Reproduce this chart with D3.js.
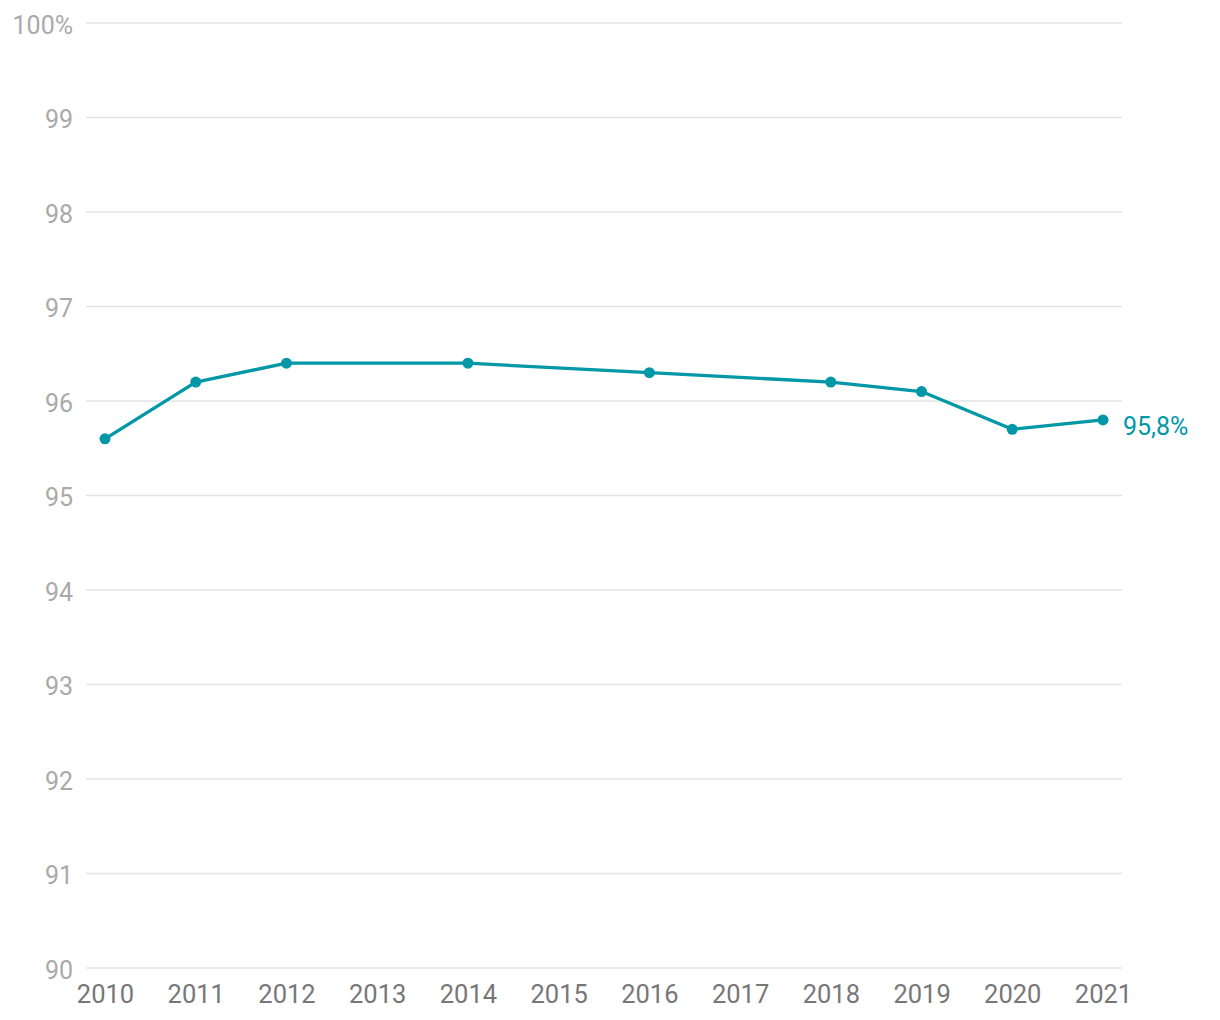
<!DOCTYPE html>
<html><head><meta charset="utf-8">
<script src="https://cdn.jsdelivr.net/npm/d3@7"></script>
<style>body{margin:0;background:#fff;}svg{display:block;font-family:Roboto,sans-serif;}</style>
</head><body>
<svg id="c" width="1220" height="1020"></svg>
<script>
const years = [2010,2011,2012,2013,2014,2015,2016,2017,2018,2019,2020,2021];
const dataYears = [2010,2011,2012,2014,2016,2018,2019,2020,2021];
const values = [95.6,96.2,96.4,96.4,96.3,96.2,96.1,95.7,95.8];
const yTicks = [90,91,92,93,94,95,96,97,98,99,100];
const lastLabel = "95,8%";

const svg = d3.select("#c");
const x = d3.scaleLinear().domain([2010,2021]).range([105,1103]);
const y = d3.scaleLinear().domain([90,100]).range([968,23]);

const grid = svg.append("g");
grid.selectAll("line").data(yTicks).join("line")
  .attr("x1",86).attr("x2",1122)
  .attr("y1",d=>y(d)).attr("y2",d=>y(d))
  .attr("stroke","#e3e3e3").attr("stroke-width",1.5);

const yAxis = svg.append("g").attr("transform","translate(86,2)")
  .call(d3.axisLeft(y).tickValues(yTicks).tickSize(0).tickPadding(13)
    .tickFormat(d=>d===100?"100%":d));
yAxis.select(".domain").remove();
yAxis.selectAll("text").attr("fill","#aaaaaa").attr("font-size",25).attr("font-family","Roboto");

const xAxis = svg.append("g").attr("transform","translate(0,968)")
  .call(d3.axisBottom(x).tickValues(years).tickSize(0).tickPadding(17).tickFormat(d3.format("d")));
xAxis.select(".domain").remove();
xAxis.selectAll("text").attr("fill","#777777").attr("font-size",25.5).attr("font-family","Roboto");

const pts = dataYears.map((d,i)=>[d,values[i]]);
const color = "#0097a7";
svg.append("path").datum(pts)
  .attr("fill","none").attr("stroke",color).attr("stroke-width",3.3)
  .attr("stroke-linejoin","round")
  .attr("d",d3.line().x(d=>x(d[0])).y(d=>y(d[1])));
svg.append("g").selectAll("circle").data(pts).join("circle")
  .attr("cx",d=>x(d[0])).attr("cy",d=>y(d[1])).attr("r",5.5).attr("fill",color);

const last = pts[pts.length-1];
svg.append("text").attr("x",x(last[0])+20).attr("y",y(last[1])+6).attr("dy","0.35em")
  .attr("fill",color).attr("font-size",25).text(lastLabel);
</script>
</body></html>
